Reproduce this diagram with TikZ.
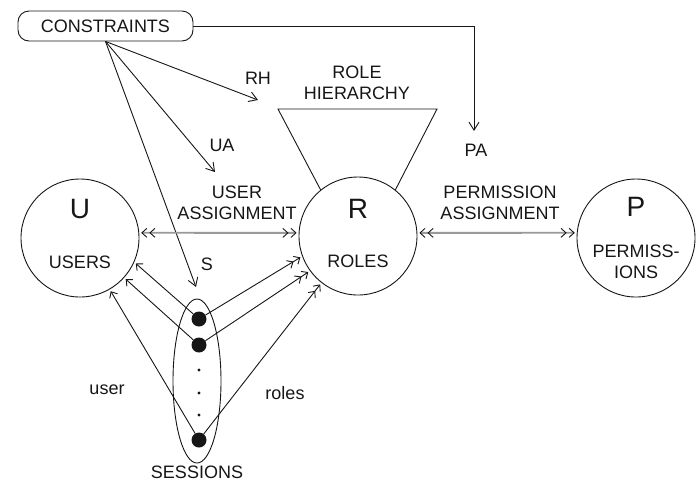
\documentclass[tikz,border=0pt]{standalone}
\usepackage{fontspec}
\setmainfont{Liberation Sans}
\usetikzlibrary{shapes.geometric, arrows.meta, positioning, calc}
\definecolor{ink}{HTML}{161616}
\definecolor{linkgray}{HTML}{9A9A9A}

\begin{document}
\begin{tikzpicture}[
    x=1pt, y=-1pt,
    font=\fontsize{18}{21}\selectfont,
    line/.style={draw=ink, line width=0.9pt},
    >={Straight Barb[length=5pt,width=9pt,sep=2pt,line width=0.9pt,color=ink]},
    set/.style={line, circle, minimum size=118pt, inner sep=0pt},
    cons/.style={line, rounded corners=11pt, minimum width=175pt, minimum height=30pt,
                 inner sep=0pt, text=ink},
    letter/.style={font=\fontsize{28}{30}\selectfont, text=ink},
    lab/.style={text=ink, align=center},
    sess/.style={line, ellipse, minimum width=48pt, minimum height=164pt, inner sep=0pt},
    dot/.style={circle, fill=ink, minimum size=15pt, inner sep=0pt},
    cflow/.style={line, -{Straight Barb[length=8pt,width=10pt,line width=0.9pt]}},
    assign/.style={draw=linkgray, line width=1.8pt, <<->>},
    toroles/.style={line, ->>},
    touser/.style={line, ->}
]
\useasboundingbox (0,0) rectangle (699,483);

% nodes
\node[cons] (cons) at (105.5,26) {CONSTRAINTS};
\node[set] (U) at (80,238) {};
\node[set] (R) at (358,236) {};
\node[set] (P) at (636,238) {};
\node[letter] (ulet) at (80,209) {U};
\node[lab] (users) at (80,262) {USERS};
\node[letter] (rlet) at (358,209) {R};
\node[lab] (roles) at (358,261) {ROLES};
\node[letter] (plet) at (636,207) {P};
\node[lab] (perms) at (636,262) {PERMISS-\\IONS};

% sessions
\node[sess] (sess) at (197,381) {};
\node[dot] (s1) at (199,319) {};
\node[dot] (s2) at (199,345) {};
\node[dot] (s3) at (199,440) {};
\foreach \y in {370,393,415}
    \fill[ink] (199,\y) circle (1.6);
\node[lab] (sesslab) at (197,472) {SESSIONS};

% labels
\node[lab] (rhlab) at (357,83) {ROLE\\HIERARCHY};
\node[lab] (ualab) at (237,203) {USER\\ASSIGNMENT};
\node[lab] (palab) at (500,203) {PERMISSION\\ASSIGNMENT};
\node[lab] (rh) at (258,78) {RH};
\node[lab] (ua) at (222,145) {UA};
\node[lab] (pa) at (476,150) {PA};
\node[lab] (s) at (207,264) {S};
\node[lab] (user) at (107,390) {user};
\node[lab] (rls) at (285,393) {roles};

% role hierarchy
\coordinate (rhl) at (278,109);
\coordinate (rhr) at (437,109);
\draw[line] (R.129) -- (rhl) -- (rhr) -- (R.51);

% constraints
\coordinate (rhtip) at (258,100);
\coordinate (uatip) at (215,172);
\coordinate (stip) at (196,287);
\coordinate (patip) at (474,131);
\draw[cflow] (cons.south) -- (rhtip);
\draw[cflow] (cons.south) -- (uatip);
\draw[cflow] (cons.south) -- (stip);
\draw[cflow] (cons.east) -| (patip);

% assignments
\draw[assign] (U.5) -- (R.177);
\draw[assign] (R.3) -- (P.175);

% sessions to users and roles
\draw[touser] (s1) -- (U.-24);
\draw[touser] (s2) -- (U.-42);
\draw[touser] (s3) -- (U.-60);
\draw[toroles] (s1) -- (R.200);
\draw[toroles] (s2) -- (R.216);
\draw[toroles] (s3) -- (R.232);

\end{tikzpicture}
\end{document}
